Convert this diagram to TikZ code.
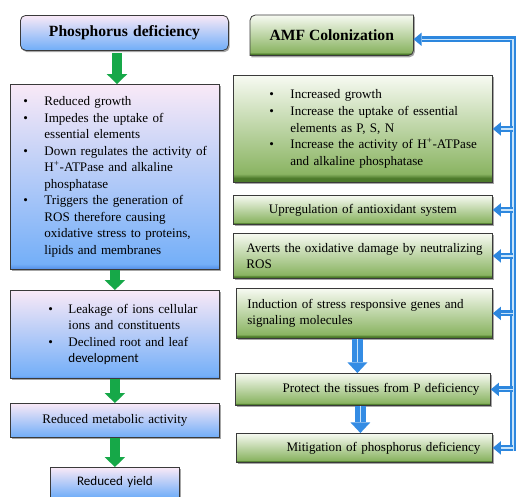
\documentclass[tikz,border=0pt]{standalone}
\usepackage{fontspec}
\setmainfont{Liberation Serif}
\newfontfamily\carl{Carlito}
\usetikzlibrary{arrows.meta,shadows,backgrounds,calc}
\definecolor{boxline}{RGB}{58,58,58}
\definecolor{ptop}{RGB}{249,233,247}
\definecolor{pbot}{RGB}{116,175,248}
\definecolor{pdark}{RGB}{80,140,230}
\definecolor{glight}{RGB}{247,250,242}
\definecolor{gmid}{RGB}{138,180,98}
\definecolor{gdark}{RGB}{76,122,42}
\definecolor{garr}{RGB}{22,168,72}
\definecolor{bblue}{RGB}{45,135,222}
\definecolor{blight}{RGB}{200,228,250}
\definecolor{bblk}{RGB}{52,140,228}
\pgfdeclareverticalshading{pshade}{100bp}{color(0bp)=(pdark); color(25bp)=(pdark); color(26.5bp)=(pbot); color(75bp)=(ptop); color(100bp)=(ptop)}
\pgfdeclareverticalshading{gshade}{100bp}{color(0bp)=(gdark); color(25bp)=(gdark); color(27bp)=(gdark); color(29bp)=(gmid); color(75bp)=(glight); color(100bp)=(glight)}
\newcommand{\bodyfont}{\fontsize{9.8pt}{12.4pt}\selectfont}
\newcommand{\titlefont}{\fontsize{11.7pt}{14pt}\selectfont\bfseries}
\newcommand{\bitem}[3]{\hangindent=#2\hangafter=1\noindent\makebox[#2][l]{\hspace*{#1}\textbullet}\ignorespaces#3\par}
\begin{document}
\begin{tikzpicture}[x=0.75pt,y=-0.75pt,
  base/.style={anchor=north west, inner xsep=0pt, inner ysep=0pt, line width=0.6pt,
    draw=boxline, font=\bodyfont,
    drop shadow={shadow xshift=1pt, shadow yshift=-1.3pt, opacity=.35, fill=black}},
  pbox/.style={base, shade, shading=pshade},
  gbox/.style={base, shade, shading=gshade},
  garrow/.style={draw=garr, line width=7.5pt, -{Triangle[length=7.5pt,width=15.5pt,line width=0pt]}},
  bluearr/.style={draw=bblue, line width=4.5pt, line join=miter,
    -{Triangle[length=6pt,width=10pt,line width=0pt]},
    postaction={draw=blight, line width=0.9pt, -, shorten >=6pt}},
  bblock/.style={draw=bblk, line width=8pt, -{Triangle[length=8pt,width=15pt,line width=0pt]},
    postaction={draw=blight, line width=1pt, -, shorten >=8pt}}]
\useasboundingbox (0,0) rectangle (517,496);

% left column
\node[pbox, rounded corners=4pt, minimum width=156pt, minimum height=26.25pt,
  text width=156pt, align=center, font=\titlefont] (phos) at (20,15) {Phosphorus deficiency};
\node[pbox, minimum width=156.75pt, minimum height=138.75pt, text width=156.75pt, align=left] (b1) at (10,84) {%
\bitem{9.75pt}{25.5pt}{Reduced growth}%
\bitem{9.75pt}{25.5pt}{Impedes the uptake of\newline essential elements}%
\bitem{9.75pt}{25.5pt}{Down regulates the activity of\newline H\textsuperscript{+}-ATPase and alkaline\newline phosphatase}%
\bitem{9.75pt}{25.5pt}{Triggers the generation of\newline ROS therefore causing\newline oxidative stress to proteins,\newline lipids and membranes}};
\node[pbox, minimum width=156.75pt, minimum height=66pt, text width=156.75pt, align=left] (b2) at (10,290) {%
\bitem{28.5pt}{43.5pt}{Leakage of ions cellular\newline ions and constituents}%
\bitem{28.5pt}{43.5pt}{Declined root and leaf\newline {\carl development}}};
\node[pbox, minimum width=156.75pt, minimum height=25.5pt, text width=156.75pt, align=center] (b3) at (10,403) {Reduced metabolic activity};
\node[pbox, minimum width=96.75pt, minimum height=22.5pt, text width=96.75pt, align=center, font=\bodyfont\carl] (b4) at (50,467) {Reduced yield};

% right column
\node[anchor=north west, inner sep=0pt, minimum width=122.25pt, minimum height=30pt, font=\titlefont] (amf) at (250,15) {AMF Colonization};
\begin{pgfonlayer}{background}
\path[draw=boxline, line width=0.6pt, shade, shading=gshade,
  drop shadow={shadow xshift=1pt, shadow yshift=-1.3pt, opacity=.35, fill=black}]
  ([yshift=-4pt]amf.north west) .. controls ([yshift=-1.8pt]amf.north west) and ([xshift=1.8pt]amf.north west) .. ([xshift=4pt]amf.north west)
  -- (amf.north east) -- ([yshift=4pt]amf.south east)
  .. controls ([yshift=1.8pt]amf.south east) and ([xshift=-1.8pt]amf.south east) .. ([xshift=-4pt]amf.south east)
  -- (amf.south west) -- cycle;
\end{pgfonlayer}
\node[gbox, minimum width=194.25pt, minimum height=80.25pt, text width=194.25pt, align=left] (ra) at (233,75) {%
\bitem{27pt}{42.75pt}{Increased growth}%
\bitem{27pt}{42.75pt}{Increase the uptake of essential\newline elements as P, S, N}%
\bitem{27pt}{42.75pt}{Increase the activity of H\textsuperscript{+}-ATPase\newline and alkaline phosphatase}};
\node[gbox, minimum width=194.25pt, minimum height=21.75pt, text width=194.25pt, align=center] (rb) at (233,195) {Upregulation of antioxidant system};
\node[gbox, minimum width=194.25pt, minimum height=33.75pt, text width=194.25pt, align=left] (rc) at (233,233) {%
\hspace*{9.75pt}Averts the oxidative damage by neutralizing\\\hspace*{9.75pt}ROS};
\node[gbox, minimum width=192pt, minimum height=37.5pt, text width=192pt, align=left] (rd) at (236,288) {%
\hspace*{8.25pt}Induction of stress responsive genes and\\\hspace*{8.25pt}signaling molecules\\[3pt]};
\node[gbox, inner xsep=8.25pt, minimum width=191.25pt, minimum height=24pt, text width=174.75pt, align=right] (re) at (235,373) {Protect the tissues from P deficiency};
\node[gbox, inner xsep=9pt, minimum width=192pt, minimum height=21.75pt, text width=174pt, align=right] (rf) at (236,433) {Mitigation of phosphorus deficiency};

% green arrows
\coordinate (gx) at (117,0);
\draw[garrow, shorten <=2pt] (phos.south -| gx) -- (b1.north -| gx);
\draw[garrow] (b1.south) -- (b2.north);
\draw[garrow] (b2.south) -- (b3.north);
\draw[garrow] (b3.south) -- (b4.north);

% blue trunk and arrows
\coordinate (tb) at (513,451);
\draw[bluearr] (tb) |- ([yshift=-3pt]amf.east);
\foreach \n in {ra,rb,rc,rd,re,rf}
  \draw[bluearr] (\n.east -| tb) -- (\n.east);

% blue block arrows
\draw[bblock] ([xshift=-5.25pt]rd.south) -- ([xshift=-5.25pt]rd.south |- re.north);
\draw[bblock] ([xshift=-1.9pt]re.south) -- ([xshift=-1.9pt]re.south |- rf.north);
\end{tikzpicture}
\end{document}
